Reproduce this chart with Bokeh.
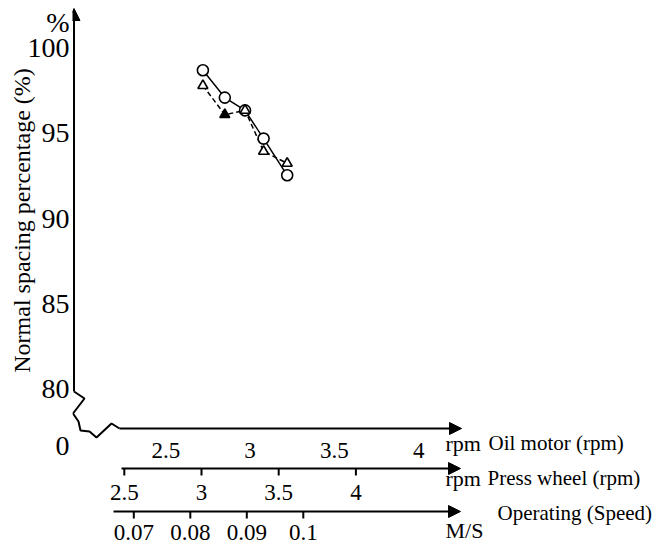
from bokeh.plotting import figure
from bokeh.models import (LinearAxis, Range1d, FixedTicker, Arrow, NormalHead, Label)
from bokeh.core.properties import value
from bokeh.embed import file_html
from bokeh.resources import INLINE

# ---------------- data ----------------
oil_rpm = [2.72, 2.85, 2.97, 3.08, 3.22]          # oil motor speed (rpm)
circle_pct = [98.65, 97.05, 96.3, 94.65, 92.5]    # series 1 (circles)
triangle_pct = [97.75, 96.05, 96.3, 93.9, 93.2]   # series 2 (triangles)

y_ticks = [80, 85, 90, 95, 100]
oil_ticks = [2.5, 3, 3.5, 4]
oil_labels = ["2.5", "3", "3.5", "4"]
press_ticks = [2.5, 3, 3.5, 4]
press_labels = ["2.5", "3", "3.5", "4"]
speed_ticks = [0.07, 0.08, 0.09, 0.10]
speed_labels = ["0.07", "0.08", "0.09", "0.1"]

# ---------------- layout helpers (page pixel -> data units) ----------------
W, H = 665, 548
FL, FR, FT, FB = 72, 665, 0, 548          # frame edges in page pixels


def oil_at(px):
    return (px + 256.2) / 168.6


def press_at(px):
    return (px + 262.2) / 154.4


def speed_at(px):
    return 0.07 + (px - 133.3) / 5650.0


def pct_at(py):
    return 100 - (py - 46.7) / 17.08


SERIF = "Liberation Serif"

p = figure(width=W, height=H, output_backend="svg", toolbar_location=None,
           x_range=Range1d(oil_at(FL), oil_at(FR)),
           y_range=Range1d(pct_at(FB), pct_at(FT)),
           x_axis_location=None, y_axis_location=None,
           min_border_left=FL, min_border_right=0, min_border_top=0,
           min_border_bottom=0, outline_line_color=None)
p.grid.visible = False
p.extra_x_ranges = {
    "press": Range1d(press_at(FL), press_at(FR)),
    "speed": Range1d(speed_at(FL), speed_at(FR)),
}

# ---------------- vertical axis (real axis) ----------------
pct_sign_y = pct_at(22)     # where the "%" unit sits
zero_y = pct_at(445)        # the broken-axis origin "0"
overrides = {t: str(t) for t in y_ticks}
overrides[pct_sign_y] = "%"
overrides[zero_y] = "0"
# the title is centred on the whole frame; leading no-break spaces lift it
# to the drawn part of the axis
title_pad = "\u00a0" * 18
yax = LinearAxis(ticker=FixedTicker(ticks=[zero_y] + y_ticks + [pct_sign_y]),
                 major_label_overrides=overrides,
                 major_label_text_font=SERIF, major_label_text_font_size="28px",
                 major_label_text_color="black",
                 major_label_standoff=3, major_tick_out=0, major_tick_in=0,
                 minor_tick_out=0, minor_tick_in=0, axis_line_color=None,
                 axis_label=title_pad + "Normal spacing percentage (%)",
                 axis_label_text_font=SERIF, axis_label_text_font_style="normal",
                 axis_label_text_font_size="24px", axis_label_standoff=-10,
                 axis_label_text_color="black")
p.add_layout(yax, "left")

AX_X = oil_at(73.5)
p.add_layout(Arrow(x_start=AX_X, y_start=pct_at(391), x_end=AX_X, y_end=pct_at(8),
                   line_width=2, line_color="black",
                   end=NormalHead(size=12, fill_color="black", line_color="black")))

# axis break zig-zag
zz = [(73.5, 391), (84, 398), (72.5, 413), (78, 421), (80, 430), (89, 431),
      (96, 437), (111, 423), (119, 428)]
p.line([oil_at(a) for a, b in zz], [pct_at(b) for a, b in zz],
       line_color="black", line_width=2)

# ---------------- horizontal scales (drawn through the extra ranges) ----------------
TICK = 7 / 17.08
rows = [
    # range name, ticks, labels, line y, line x0, line x1, tick?, label y
    ("default", oil_ticks, oil_labels, 428, oil_at(119), oil_at(461), False, 450),
    ("press", press_ticks, press_labels, 468, press_at(121), press_at(460), True, 492),
    ("speed", speed_ticks, speed_labels, 511, speed_at(113), speed_at(460), True, 532),
]
for rng, ticks, labels, ly, x0, x1, has_tick, lab_y in rows:
    p.add_layout(Arrow(x_start=x0, y_start=pct_at(ly), x_end=x1, y_end=pct_at(ly),
                       x_range_name=rng, line_width=2, line_color="black",
                       end=NormalHead(size=12, fill_color="black", line_color="black")))
    if has_tick:
        p.segment(x0=ticks, y0=[pct_at(ly)] * len(ticks), x1=ticks,
                  y1=[pct_at(ly) - TICK] * len(ticks), x_range_name=rng,
                  line_color="black", line_width=2)
    p.text(x=ticks, y=[pct_at(lab_y)] * len(ticks), text=labels, x_range_name=rng,
           text_font=value(SERIF), text_font_size=value("23px"),
           text_align="center", text_baseline="middle", text_color="black")

# ---------------- data marks ----------------
triangle_fill = ["white", "black", "white", "white", "white"]   # 2nd point printed solid
p.line(oil_rpm, circle_pct, line_color="black", line_width=1.5)
p.line(oil_rpm, triangle_pct, line_color="black", line_width=1.5, line_dash="5 3")
p.scatter(oil_rpm, circle_pct, marker="circle", size=11, fill_color="white",
          line_color="black", line_width=1.6)
p.scatter(oil_rpm, triangle_pct, marker="triangle", size=10, fill_color=triangle_fill,
          line_color="black", line_width=1.6)

# ---------------- scale names ----------------
def label(px, py, text, size):
    p.add_layout(Label(x=oil_at(px), y=pct_at(py), text=text, text_font=SERIF,
                       text_font_size=size, text_align="left", text_baseline="middle",
                       text_color="black"))


label(445, 443, "rpm", "22px")
label(488, 442, "Oil motor (rpm)", "21px")
label(445, 478, "rpm", "22px")
label(487, 477, "Press wheel (rpm)", "21px")
label(445, 530, "M/S", "22px")
label(497, 512, "Operating (Speed)", "21px")

open("out.html", "w").write(file_html(p, INLINE))
